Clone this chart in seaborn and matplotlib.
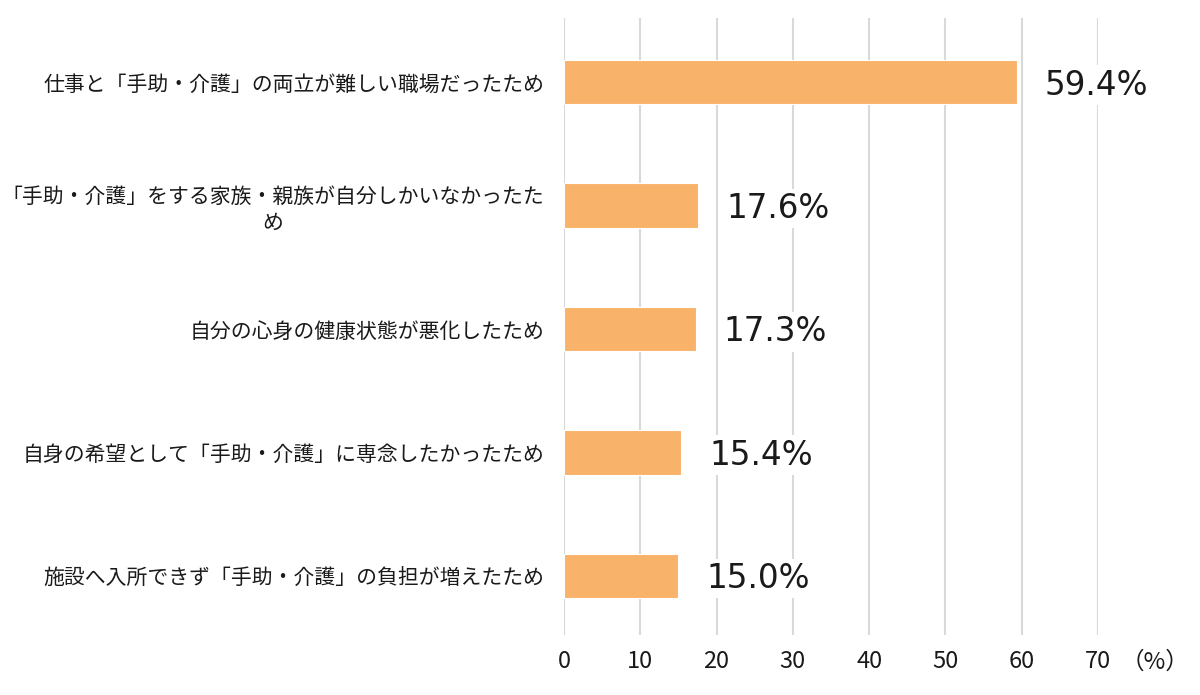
import matplotlib
matplotlib.use("Agg")
import matplotlib.pyplot as plt
import seaborn as sns
import pandas as pd

categories = [
    "仕事と「手助・介護」の両立が難しい職場だったため",
    "「手助・介護」をする家族・親族が自分しかいなかったた\nめ",
    "自分の心身の健康状態が悪化したため",
    "自身の希望として「手助・介護」に専念したかったため",
    "施設へ入所できず「手助・介護」の負担が増えたため",
]
values = [59.4, 17.6, 17.3, 15.4, 15.0]
xticks = [0, 10, 20, 30, 40, 50, 60, 70]
unit_label = "（%）"

df = pd.DataFrame({"reason": categories, "pct": values})

sns.set_theme(style="white")
plt.rcParams["font.family"] = ["Noto Sans CJK JP", "DejaVu Sans"]

fig = plt.figure(figsize=(12, 6.95), dpi=100)
ax = fig.add_axes([0.47, 0.0863, 0.915 - 0.47, 0.974 - 0.0863])

sns.barplot(data=df, y="reason", x="pct", orient="h", color="#F9B26A",
            saturation=1, width=0.36, edgecolor="white", linewidth=0.8,
            ax=ax, zorder=2)

ax.set_xlim(0, 70)
ax.set_ylim(4.48, -0.52)
ax.set_xticks(xticks)
ax.set_xticklabels([str(t) for t in xticks], fontsize=17, color="#1a1a1a")
ax.set_xlabel("")
ax.set_ylabel("")
ax.tick_params(axis="x", length=0, pad=11)
ax.tick_params(axis="y", length=0, pad=14)
for lbl in ax.get_yticklabels():
    lbl.set_fontsize(15)
    lbl.set_color("#1a1a1a")
    lbl.set_multialignment("center")

for s in ax.spines.values():
    s.set_visible(False)
ax.grid(axis="x", color="#D9D9D9", linewidth=1.5, zorder=0)
ax.grid(axis="y", visible=False)
ax.set_axisbelow(True)

for i, v in enumerate(values):
    ax.annotate(f"{v:.1f}%", xy=(v, i), xytext=(20, -2), textcoords="offset points",
                ha="left", va="center", fontsize=23.5, color="#1a1a1a",
                family=["DejaVu Sans"],
                bbox=dict(boxstyle="square,pad=0.1", fc="white", ec="none"),
                annotation_clip=False, zorder=3)

# place unit label level with the x tick labels
fig.canvas.draw()
tl = ax.get_xticklabels()[-1].get_window_extent()
inv = fig.transFigure.inverted()
(x0, y0), (x1, y1) = inv.transform([(tl.x0, tl.y0), (tl.x1, tl.y1)])
fig.text(x1 + 0.008, (y0 + y1) / 2, unit_label, fontsize=17, color="#1a1a1a",
         ha="left", va="center")

fig.savefig("out.png", dpi=100)
